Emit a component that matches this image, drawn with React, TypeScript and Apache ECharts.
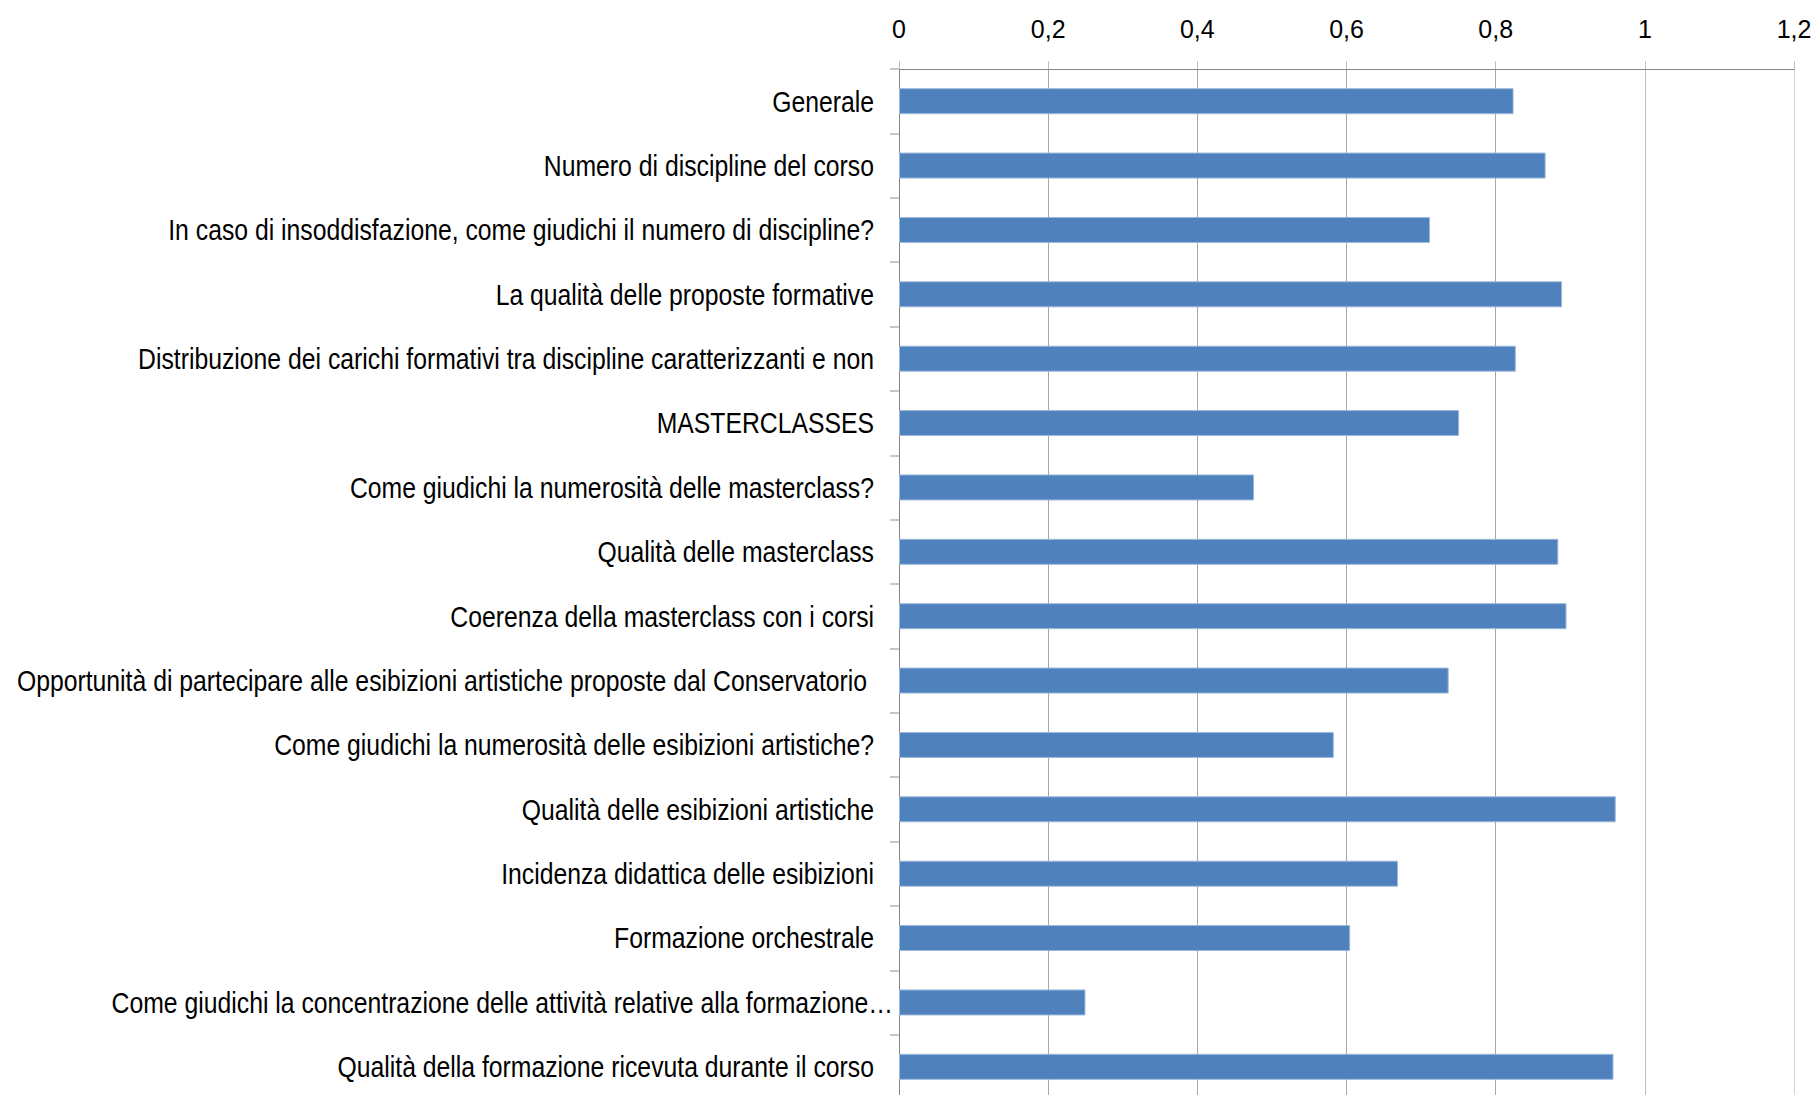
import React, { useEffect, useRef } from "react";
import * as echarts from "echarts";

const categories: string[] = [
  "Generale",
  "Numero di discipline del corso",
  "In caso di insoddisfazione, come giudichi il numero di discipline?",
  "La qualità delle proposte formative",
  "Distribuzione dei carichi formativi tra discipline caratterizzanti e non",
  "MASTERCLASSES",
  "Come giudichi la numerosità delle masterclass?",
  "Qualità delle masterclass",
  "Coerenza della masterclass con i corsi",
  "Opportunità di partecipare alle esibizioni artistiche proposte dal Conservatorio ",
  "Come giudichi la numerosità delle esibizioni artistiche?",
  "Qualità delle esibizioni artistiche",
  "Incidenza didattica delle esibizioni",
  "Formazione orchestrale",
  "Come giudichi la concentrazione delle attività relative alla formazione…",
  "Qualità della formazione ricevuta durante il corso",
];

const values: number[] = [
  0.824, 0.867, 0.712, 0.889, 0.827, 0.751, 0.476, 0.884, 0.895, 0.737, 0.583,
  0.961, 0.669, 0.605, 0.25, 0.958,
];

const xTickLabels: string[] = ["0", "0,2", "0,4", "0,6", "0,8", "1", "1,2"];

const FONT = "'Liberation Sans', Arial, sans-serif";
const LABEL_SIZE = 30;
const LABEL_SCALE_X = 0.825;
const LABEL_GAP = 25;
const LABEL_GAP_TRUNCATED = 6;

export default function App() {
  const ref = useRef<HTMLDivElement>(null);
  useEffect(() => {
    if (!ref.current) return;
    const chart = echarts.init(ref.current, undefined, { renderer: "svg" });
    chart.setOption({
      animation: false,
      backgroundColor: "#ffffff",
      textStyle: { fontFamily: FONT },
      grid: {
        left: 899,
        top: 69,
        right: 22,
        height: 1030,
        containLabel: false,
        outerBoundsMode: "none",
      },
      xAxis: {
        type: "value",
        position: "top",
        min: 0,
        max: 1.2,
        interval: 0.2,
        axisLine: { show: true, lineStyle: { color: "#868686", width: 1 } },
        axisTick: { show: true, length: 8, lineStyle: { color: "#bfbfbf" } },
        axisLabel: {
          color: "#000000",
          fontSize: 25,
          fontFamily: FONT,
          margin: 28,
          formatter: (v: number) => xTickLabels[Math.round(v / 0.2)] ?? "",
        },
        splitLine: {
          show: true,
          lineStyle: {
            color: ["#a6a6a6", "#a6a6a6", "#a6a6a6", "#a6a6a6", "#a6a6a6", "#bdbdbd", "#d4d4d4"],
            width: 1,
          },
        },
      },
      yAxis: {
        type: "category",
        inverse: true,
        data: categories,
        axisLine: { show: true, lineStyle: { color: "#868686", width: 1 } },
        axisTick: { show: true, length: 9, lineStyle: { color: "#c8c8c8", width: 2 } },
        axisLabel: { show: false },
      },
      series: [
        {
          type: "bar",
          data: values,
          barWidth: 26,
          itemStyle: { color: "#4f81bd", borderColor: "#9db8dc", borderWidth: 1 },
        },
      ],
    });
    // category labels drawn as real text, narrowed to match the condensed face
    const x0 = chart.convertToPixel({ xAxisIndex: 0 }, 0) as number;
    const labels = categories.map((c, i) => {
      const y = chart.convertToPixel({ yAxisIndex: 0 }, i) as number;
      const gap = c.endsWith("…") ? LABEL_GAP_TRUNCATED : LABEL_GAP;
      return {
        type: "text",
        x: x0 - gap,
        y,
        scaleX: LABEL_SCALE_X,
        silent: true,
        style: {
          x: 0,
          y: 0,
          text: c,
          fill: "#000000",
          font: `${LABEL_SIZE}px ${FONT}`,
          align: "right",
          verticalAlign: "middle",
        },
      };
    });
    chart.setOption({ graphic: labels });
    return () => chart.dispose();
  }, []);
  return (
    <div
      ref={ref}
      style={{ position: "fixed", left: 0, top: 0, width: 1816, height: 1095 }}
    />
  );
}
